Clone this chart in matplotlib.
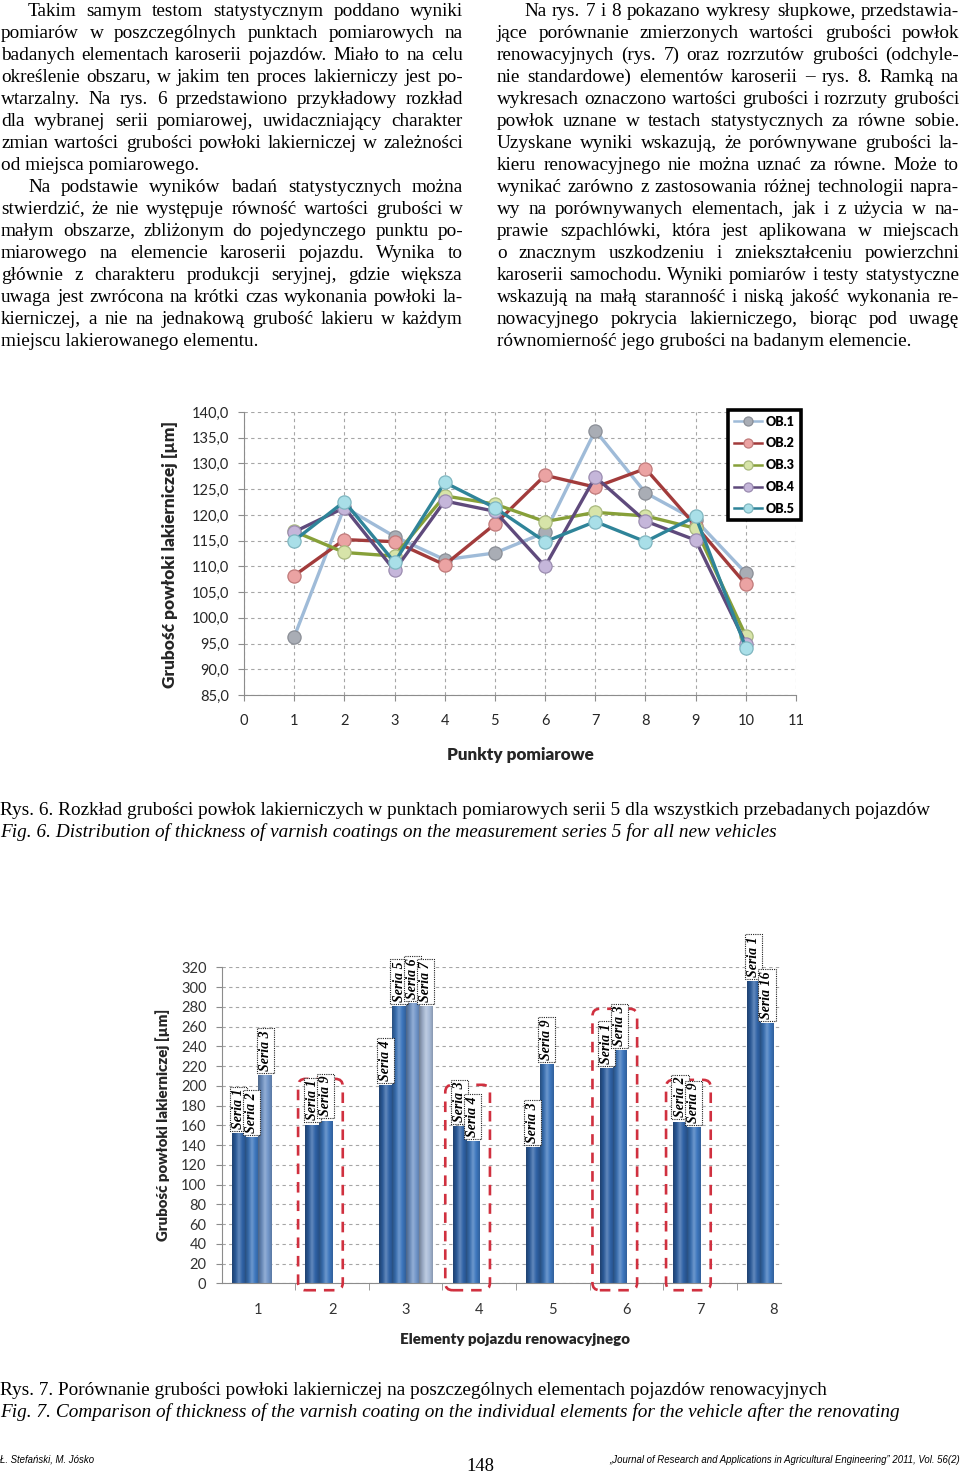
import matplotlib
matplotlib.use('Agg')
import matplotlib.pyplot as plt
import numpy as np
from matplotlib.patches import FancyBboxPatch
from matplotlib.colors import LinearSegmentedColormap, to_rgb
from matplotlib.ticker import FuncFormatter, MultipleLocator

W, H = 960, 1473

# ---- Rys. 6: thickness at measuring points, series 5 ----
points = [1, 2, 3, 4, 5, 6, 7, 8, 9, 10]
ob1 = [96.3, 121.5, 115.8, 111.3, 112.6, 116.6, 136.4, 124.3, 119.0, 108.7]
ob2 = [108.2, 115.2, 114.8, 110.3, 118.2, 127.7, 125.4, 129.0, 117.9, 106.5]
ob3 = [116.8, 112.7, 112.0, 123.7, 122.1, 118.7, 120.5, 119.8, 117.4, 96.5]
ob4 = [116.7, 121.4, 109.2, 122.7, 120.7, 110.0, 127.4, 118.8, 115.1, 95.0]
ob5 = [115.0, 122.6, 110.8, 126.3, 121.4, 114.8, 118.7, 114.8, 119.7, 94.2]
vehicle_names = ['OB.1', 'OB.2', 'OB.3', 'OB.4', 'OB.5']

# ---- Rys. 7: thickness on elements of renovated vehicles ----
elements = [1, 2, 3, 4, 5, 6, 7, 8]
series_names = [['Seria 1', 'Seria 2', 'Seria 3'],
                ['Seria 1', 'Seria 9'],
                ['Seria 4', 'Seria 5', 'Seria 6', 'Seria 7'],
                ['Seria 3', 'Seria 4'],
                ['Seria 3', 'Seria 9'],
                ['Seria 1', 'Seria 3'],
                ['Seria 2', 'Seria 9'],
                ['Seria 1', 'Seria 16']]
thickness = [[151, 147, 210],
             [160, 164],
             [200, 280, 283, 280],
             [158, 143],
             [137, 221],
             [217, 235],
             [163, 157],
             [305, 263]]
equal_elements = [2, 4, 6, 7]

# ---- page text ----
left_paragraphs = [
    ["Takim samym testom statystycznym poddano wyniki",
     "pomiarów w poszczególnych punktach pomiarowych na",
     "badanych elementach karoserii pojazdów. Miało to na celu",
     "określenie obszaru, w jakim ten proces lakierniczy jest po-",
     "wtarzalny. Na rys. 6 przedstawiono przykładowy rozkład",
     "dla wybranej serii pomiarowej, uwidaczniający charakter",
     "zmian wartości grubości powłoki lakierniczej w zależności",
     "od miejsca pomiarowego."],
    ["Na podstawie wyników badań statystycznych można",
     "stwierdzić, że nie występuje równość wartości grubości w",
     "małym obszarze, zbliżonym do pojedynczego punktu po-",
     "miarowego na elemencie karoserii pojazdu. Wynika to",
     "głównie z charakteru produkcji seryjnej, gdzie większa",
     "uwaga jest zwrócona na krótki czas wykonania powłoki la-",
     "kierniczej, a nie na jednakową grubość lakieru w każdym",
     "miejscu lakierowanego elementu."],
]
right_paragraphs = [
    ["Na rys. 7 i 8 pokazano wykresy słupkowe, przedstawia-",
     "jące porównanie zmierzonych wartości grubości powłok",
     "renowacyjnych (rys. 7) oraz rozrzutów grubości (odchyle-",
     "nie standardowe) elementów karoserii – rys. 8. Ramką na",
     "wykresach oznaczono wartości grubości i rozrzuty grubości",
     "powłok uznane w testach statystycznych za równe sobie.",
     "Uzyskane wyniki wskazują, że porównywane grubości la-",
     "kieru renowacyjnego nie można uznać za równe. Może to",
     "wynikać zarówno z zastosowania różnej technologii napra-",
     "wy na porównywanych elementach, jak i z użycia w na-",
     "prawie szpachlówki, która jest aplikowana w miejscach",
     "o znacznym uszkodzeniu i zniekształceniu powierzchni",
     "karoserii samochodu. Wyniki pomiarów i testy statystyczne",
     "wskazują na małą staranność i niską jakość wykonania re-",
     "nowacyjnego pokrycia lakierniczego, biorąc pod uwagę",
     "równomierność jego grubości na badanym elemencie."],
]
caption6_pl = "Rys. 6. Rozkład grubości powłok lakierniczych w punktach pomiarowych serii 5 dla wszystkich przebadanych pojazdów"
caption6_en = "Fig. 6. Distribution of thickness of varnish coatings on the measurement series 5 for all new vehicles"
caption7_pl = "Rys. 7. Porównanie grubości powłoki lakierniczej na poszczególnych elementach pojazdów renowacyjnych"
caption7_en = "Fig. 7. Comparison of thickness of the varnish coating on the individual elements for the vehicle after the renovating"
footer_left = "Ł. Stefański, M. Jósko"
footer_page = "148"
footer_right = "„Journal of Research and Applications in Agricultural Engineering” 2011, Vol. 56(2)"

SERIF = 'Liberation Serif'
CHART = 'Lato'
NARROW = ['Liberation Sans Narrow', 'Liberation Sans']
TITLE_W = 'heavy'

fig = plt.figure(figsize=(W / 100, H / 100), dpi=100)
renderer = fig.canvas.get_renderer()


def text_width(s, size, **kw):
    t = fig.text(0, 0, s, fontsize=size, **kw)
    w = t.get_window_extent(renderer).width
    t.remove()
    return w


def fit_size(s, target, **kw):
    return 10 * target / text_width(s, 10, **kw)


def put(x, y, s, **kw):
    # x, y in page pixels measured from top-left
    return fig.text(x / W, 1 - y / H, s, **kw)


def put_line(line, x0, x1, y, justify, size, **kw):
    words = line.split()
    if not justify or len(words) < 2:
        put(x0, y, line, fontsize=size, va='baseline', **kw)
        return
    widths = [text_width(w, size, **kw) for w in words]
    gap = (x1 - x0 - sum(widths)) / (len(words) - 1)
    x = x0
    for w, wd in zip(words, widths):
        put(x, y, w, fontsize=size, va='baseline', **kw)
        x += wd + gap


def put_column(paragraphs, x0, x1, y0, step, size, indent=27):
    y = y0
    for par in paragraphs:
        for i, line in enumerate(par):
            start = x0 + (indent if i == 0 else 0)
            put_line(line, start, x1, y, i < len(par) - 1, size,
                     family=SERIF, color='black')
            y += step


body = fit_size(caption6_pl, 932, family=SERIF)
put_column(left_paragraphs, 1, 463, 15.5, 22.0, body)
put_column(right_paragraphs, 497, 959, 15.5, 22.0, body)

put(0, 815, caption6_pl, fontsize=body, family=SERIF, va='baseline')
put(0, 837, caption6_en, fontsize=body, family=SERIF, style='italic', va='baseline')
put(0, 1395, caption7_pl, fontsize=body, family=SERIF, va='baseline')
put(0, 1417, caption7_en, fontsize=body, family=SERIF, style='italic', va='baseline')

fs = fit_size(footer_left, 95, family=NARROW, style='italic')
put(0, 1463, footer_left, fontsize=fs, family=NARROW, style='italic', va='baseline')
put(960, 1463, footer_right, fontsize=fs, family=NARROW, style='italic',
    va='baseline', ha='right')
put(480, 1471, footer_page, fontsize=fit_size(footer_page, 28, family=SERIF),
    family=SERIF, va='baseline', ha='center')

# ================= line chart =================
AXIS_GREY = '#8c8c8c'
line_colors = ['#9fbbd8', '#a23b3b', '#87a039', '#5f4a7c', '#2f8499']
marker_colors = ['#a9adb5', '#eba3a3', '#d7e4a9', '#c5b6da', '#a9dfe8']
marker_edges = ['#8a8e96', '#c07a7a', '#a9b97f', '#9b8cb0', '#7fb6c0']

ax = fig.add_axes([244 / W, 1 - 695 / H, (796 - 244) / W, (695 - 412) / H])
for vals, name, lc, mc, me in zip([ob1, ob2, ob3, ob4, ob5], vehicle_names,
                                  line_colors, marker_colors, marker_edges):
    ax.plot(points, vals, '-o', color=lc, lw=2.4, ms=9.5, mfc=mc, mec=me,
            mew=0.9, label=name, clip_on=False, zorder=3)

ax.set_xlim(0, 11)
ax.set_ylim(85, 140)
ax.xaxis.set_major_locator(MultipleLocator(1))
ax.yaxis.set_major_locator(MultipleLocator(5))
ax.yaxis.set_major_formatter(FuncFormatter(lambda v, p: f"{v:.1f}".replace('.', ',')))
ax.grid(True, color='#a6a6a6', ls=(0, (3, 3)), lw=0.8)
for side in ['top', 'right']:
    ax.spines[side].set_visible(False)
for side in ['left', 'bottom']:
    ax.spines[side].set_color(AXIS_GREY)
ax.tick_params(axis='both', direction='out', length=4, color=AXIS_GREY,
               labelsize=10.5, labelcolor='#262626')
ax.tick_params(axis='x', pad=10)
ax.tick_params(axis='y', pad=7)
for lab in ax.get_xticklabels() + ax.get_yticklabels():
    lab.set_family(CHART)

leg = ax.legend(loc='upper left', bbox_to_anchor=(728 / W, 1 - 410 / H),
                bbox_transform=fig.transFigure, frameon=True, fancybox=False,
                edgecolor='black', framealpha=1, borderpad=0.45,
                labelspacing=0.78, handlelength=2.3, handletextpad=0.3,
                borderaxespad=0,
                prop={'family': CHART, 'weight': TITLE_W, 'size': 9})
leg.get_frame().set_linewidth(2.6)
for h in leg.legend_handles:
    h.set_markersize(6.5)
    h.set_linewidth(1.8)

lab1 = "Grubość powłoki lakierniczej [µm]"
put(170, 554, lab1, fontsize=fit_size(lab1, 268, family=CHART, weight=TITLE_W),
    family=CHART, weight=TITLE_W, rotation=90, ha='center', va='center', color='#262626')
lab2 = "Punkty pomiarowe"
put(520, 755, lab2, fontsize=fit_size(lab2, 148, family=CHART, weight=TITLE_W),
    family=CHART, weight=TITLE_W, ha='center', va='center', color='#262626')

# ================= bar chart =================
bar_w = 0.181
bar_colors = ['#2f62a6', '#3c76bd', '#6f94c8', '#a8bbd8']

ax2 = fig.add_axes([221.7 / W, 1 - 1283.3 / H, 559.3 / W, 316 / H])


def cylinder_cmap(c):
    r = np.array(to_rgb(c))
    return LinearSegmentedColormap.from_list(
        'cyl', [r * 0.68, r * 0.9, r + (1 - r) * 0.25, r, r * 0.82])


for el, names, vals in zip(elements, series_names, thickness):
    for j, (nm, v) in enumerate(zip(names, vals)):
        xc = el + (j - 1.5) * bar_w
        col = bar_colors[j]
        ax2.bar(xc, v, width=bar_w, color=col, zorder=2)
        grad = np.linspace(0, 1, 40).reshape(1, -1)
        ax2.imshow(grad, extent=(xc - bar_w / 2, xc + bar_w / 2, 0, v),
                   aspect='auto', cmap=cylinder_cmap(col), zorder=2.5,
                   interpolation='bilinear')
        ax2.text(xc, v + 5, nm, rotation=90, ha='center', va='bottom',
                 family=SERIF, style='italic', weight='bold', fontsize=10,
                 zorder=5, clip_on=False,
                 bbox=dict(boxstyle='square,pad=0.15', fc='white', ec='#222222',
                           ls=(0, (1, 1)), lw=0.8))
    if el in equal_elements:
        x_left = el - 1.5 * bar_w - bar_w / 2 - 0.1
        x_right = el + (len(vals) - 1.5) * bar_w - bar_w / 2 + 0.145
        top = max(vals) + 43
        ax2.add_patch(FancyBboxPatch((x_left, -7), x_right - x_left, top + 7,
                                     boxstyle='round,pad=0,rounding_size=0.1',
                                     mutation_aspect=74.5, fill=False,
                                     ec='#d0303f', lw=1.9, ls=(0, (4, 3)),
                                     clip_on=False, zorder=4))

ax2.set_xlim(0.5, 8.1)
ax2.set_ylim(0, 320)
ax2.set_xticks(elements)
ax2.set_xticks(np.arange(1.5, 8, 1), minor=True)
ax2.yaxis.set_major_locator(MultipleLocator(20))
ax2.grid(True, axis='y', color='#a6a6a6', ls=(0, (3, 3)), lw=0.8, zorder=0)
ax2.set_axisbelow(True)
for side in ['top', 'right']:
    ax2.spines[side].set_visible(False)
for side in ['left', 'bottom']:
    ax2.spines[side].set_color(AXIS_GREY)
ax2.tick_params(axis='x', which='major', length=0, pad=14)
ax2.tick_params(axis='x', which='minor', length=5, direction='out', color=AXIS_GREY)
ax2.tick_params(axis='y', direction='out', length=4, color=AXIS_GREY, pad=7)
ax2.tick_params(axis='both', labelsize=10.5, labelcolor='#333333')
for lab in ax2.get_xticklabels() + ax2.get_yticklabels():
    lab.set_family(CHART)

put(163, 1125, lab1, fontsize=fit_size(lab1, 232, family=CHART, weight=TITLE_W),
    family=CHART, weight=TITLE_W, rotation=90, ha='center', va='center', color='#262626')
lab3 = "Elementy pojazdu renowacyjnego"
put(515, 1340, lab3, fontsize=fit_size(lab3, 230, family=CHART, weight=TITLE_W),
    family=CHART, weight=TITLE_W, ha='center', va='center', color='#262626')

fig.savefig('out.png', dpi=100)
